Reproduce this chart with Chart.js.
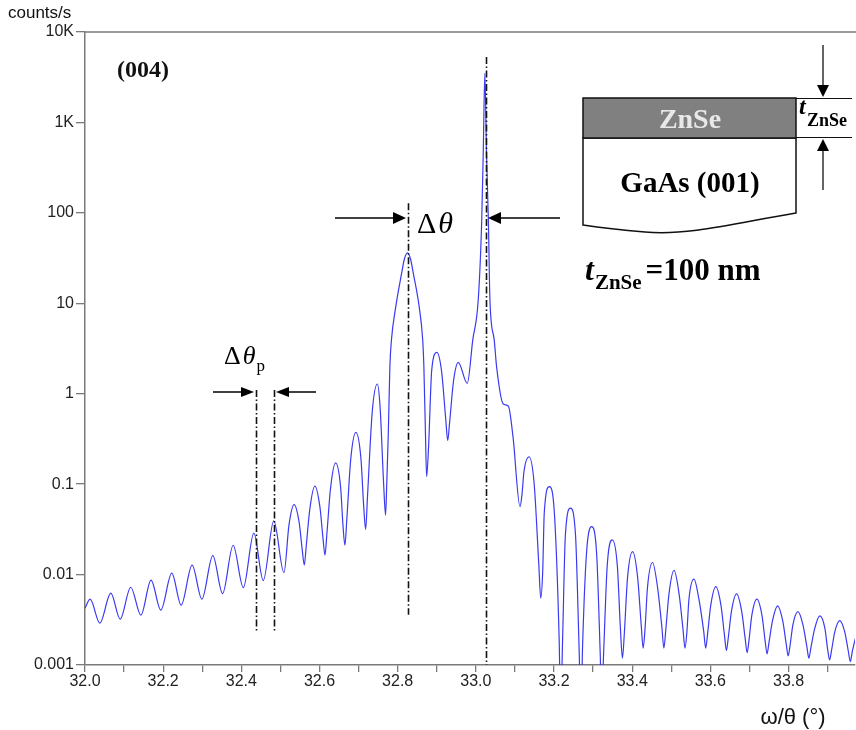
<!DOCTYPE html>
<html>
<head>
<meta charset="utf-8">
<script src="https://cdn.jsdelivr.net/npm/chart.js@4.4.1/dist/chart.umd.min.js"></script>
<style>
html,body{margin:0;padding:0;background:#fff;}
canvas{display:block;}
</style>
</head>
<body>
<canvas id="c" width="856" height="730"></canvas>
<script>
// ---- data ----
const OMEGA_THETA = [
  32.000, 32.013, 32.038, 32.066, 32.090, 32.117, 32.143, 32.169, 32.194, 32.222,
  32.246, 32.274, 32.299, 32.327, 32.352, 32.379, 32.405, 32.432, 32.456, 32.483,
  32.509, 32.522, 32.535, 32.548, 32.556, 32.561, 32.566, 32.575, 32.588, 32.601,
  32.609, 32.614, 32.619, 32.628, 32.641, 32.654, 32.660, 32.665, 32.670, 32.680,
  32.693, 32.706, 32.713, 32.718, 32.723, 32.735, 32.748, 32.755, 32.764, 32.769,
  32.772, 32.776, 32.780, 32.784, 32.795, 32.810, 32.817, 32.825, 32.833, 32.840,
  32.855, 32.864, 32.867, 32.871, 32.874, 32.879, 32.887, 32.900, 32.912, 32.923,
  32.928, 32.933, 32.943, 32.955, 32.978, 32.992, 33.006, 33.015, 33.019, 33.023,
  33.027, 33.032, 33.036, 33.047, 33.053, 33.070, 33.083, 33.095, 33.113, 33.118,
  33.123, 33.136, 33.149, 33.161, 33.166, 33.171, 33.175, 33.188, 33.201, 33.213,
  33.217, 33.222, 33.229, 33.242, 33.255, 33.264, 33.269, 33.273, 33.283, 33.296,
  33.309, 33.318, 33.322, 33.327, 33.336, 33.349, 33.362, 33.370, 33.375, 33.380,
  33.388, 33.401, 33.414, 33.423, 33.428, 33.433, 33.439, 33.452, 33.465, 33.476,
  33.481, 33.486, 33.494, 33.507, 33.520, 33.530, 33.535, 33.540, 33.545, 33.558,
  33.571, 33.583, 33.588, 33.593, 33.601, 33.614, 33.627, 33.636, 33.641, 33.646,
  33.654, 33.667, 33.680, 33.689, 33.694, 33.699, 33.706, 33.719, 33.732, 33.740,
  33.745, 33.750, 33.759, 33.772, 33.785, 33.794, 33.799, 33.804, 33.811, 33.824,
  33.837, 33.847, 33.852, 33.857, 33.867, 33.880, 33.893, 33.900, 33.905, 33.910,
  33.918, 33.931, 33.944, 33.953, 33.958, 33.963, 33.978
];
const COUNTS = [
  0.00425, 0.00535, 0.0029, 0.00622, 0.00321, 0.00724, 0.00356, 0.00867, 0.00404, 0.01035,
  0.00459, 0.0127, 0.00535, 0.0162, 0.00615, 0.0211, 0.00716, 0.0287, 0.00857, 0.0392,
  0.0105, 0.0357, 0.0593, 0.0374, 0.0184, 0.0127, 0.0206, 0.0522, 0.0951, 0.056,
  0.025, 0.0164, 0.0288, 0.0883, 0.172, 0.0925, 0.035, 0.0211, 0.042, 0.191,
  0.373, 0.191, 0.0571, 0.0316, 0.0767, 0.64, 1.28, 0.71, 0.101, 0.0454,
  0.1, 0.365, 1.99, 3.92, 9.14, 21.4, 30.7, 36.1, 30.7, 21.4,
  9.14, 3.92, 1.99, 0.368, 0.121, 0.259, 1.81, 2.86, 1.81, 0.519,
  0.303, 0.489, 1.40, 2.22, 1.30, 3.92, 10.8, 83, 493, 3500,
  493, 83, 10.8, 3.92, 1.99, 0.769, 0.731, 0.335, 0.0564, 0.0766,
  0.137, 0.201, 0.103, 0.013, 0.00548, 0.0108, 0.0481, 0.0938, 0.047, 0.002,
  0.0003, 0.002, 0.0272, 0.0542, 0.0272, 0.0016, 0.0003, 0.0016, 0.017, 0.0339,
  0.017, 0.0014, 0.0004, 0.0014, 0.0124, 0.0242, 0.0124, 0.00245, 0.00119, 0.00229,
  0.0092, 0.0179, 0.0092, 0.00277, 0.00154, 0.00259, 0.00713, 0.0136, 0.00713, 0.00259,
  0.00154, 0.00247, 0.00608, 0.0111, 0.00608, 0.00247, 0.00154, 0.00234, 0.00524, 0.00889,
  0.00524, 0.00234, 0.00154, 0.00224, 0.00459, 0.00736, 0.00459, 0.00214, 0.00145, 0.00204,
  0.00395, 0.00612, 0.00395, 0.00197, 0.00137, 0.00191, 0.00353, 0.00535, 0.00353, 0.00186,
  0.00133, 0.00178, 0.00309, 0.00451, 0.00309, 0.00171, 0.00126, 0.00166, 0.00276, 0.0039,
  0.00276, 0.00158, 0.00119, 0.00154, 0.00254, 0.0035, 0.00254, 0.00149, 0.00114, 0.00145,
  0.0023, 0.0031, 0.0023, 0.00141, 0.00109, 0.00141, 0.0026
];
const X_TICKS = [32.0, 32.1, 32.2, 32.3, 32.4, 32.5, 32.6, 32.7, 32.8, 32.9,
                 33.0, 33.1, 33.2, 33.3, 33.4, 33.5, 33.6, 33.7, 33.8, 33.9];
const X_TICK_LABELS = ['32.0', '', '32.2', '', '32.4', '', '32.6', '', '32.8', '',
                       '33.0', '', '33.2', '', '33.4', '', '33.6', '', '33.8', ''];
const Y_TICKS = [0.001, 0.01, 0.1, 1, 10, 100, 1000, 10000];
const Y_TICK_LABELS = ['0.001', '0.01', '0.1', '1', '10', '100', '1K', '10K'];
// annotation markers (omega/theta positions)
const PENDELLOSUNG_MARKS = [32.437, 32.483];
const LAYER_PEAK = 32.826;
const SUBSTRATE_PEAK = 33.025;

const AXIS_COLOR = '#7a7a7a';
const SANS = '"Liberation Sans", Arial, sans-serif';
const SERIF = '"Liberation Serif", "Times New Roman", serif';

function arrow(ctx, x1, y1, x2, y2, len, half) {
  const ang = Math.atan2(y2 - y1, x2 - x1);
  const bx = x2 - Math.cos(ang) * len, by = y2 - Math.sin(ang) * len;
  ctx.beginPath(); ctx.moveTo(x1, y1); ctx.lineTo(bx, by); ctx.stroke();
  ctx.beginPath();
  ctx.moveTo(x2, y2);
  ctx.lineTo(bx + Math.sin(ang) * half, by - Math.cos(ang) * half);
  ctx.lineTo(bx - Math.sin(ang) * half, by + Math.cos(ang) * half);
  ctx.closePath(); ctx.fill();
}

const annotations = {
  id: 'annotations',
  afterDraw(chart) {
    const { ctx, chartArea: a, scales: { x, y } } = chart;
    ctx.save();
    // top frame line
    ctx.strokeStyle = AXIS_COLOR; ctx.lineWidth = 1.5;
    ctx.beginPath(); ctx.moveTo(a.left, a.top); ctx.lineTo(856, a.top); ctx.stroke();

    // axis captions
    ctx.fillStyle = '#111';
    ctx.font = '17px ' + SANS; ctx.textAlign = 'left'; ctx.textBaseline = 'alphabetic';
    ctx.fillText('counts/s', 8, 18);
    ctx.font = '22px ' + SANS; ctx.textAlign = 'center';
    ctx.fillText('\u03c9/\u03b8 (\u00b0)', 793, 724);

    // (004)
    ctx.font = 'bold 24px ' + SERIF; ctx.textAlign = 'left';
    ctx.fillText('(004)', 117, 77);

    // dash-dot guide lines
    ctx.strokeStyle = '#111'; ctx.lineWidth = 1.6;
    ctx.setLineDash([7, 2.5, 1.5, 2.5]);
    const vline = (xv, ytop, ybot) => {
      const px = Math.round(x.getPixelForValue(xv)) + 0.5;
      ctx.beginPath(); ctx.moveTo(px, y.getPixelForValue(ytop)); ctx.lineTo(px, y.getPixelForValue(ybot)); ctx.stroke();
    };
    PENDELLOSUNG_MARKS.forEach(v => vline(v, 1.1, 0.0023));
    vline(LAYER_PEAK, 128, 0.0036);
    vline(SUBSTRATE_PEAK, 5300, 0.001);
    ctx.setLineDash([]);

    // arrows
    ctx.fillStyle = '#000'; ctx.strokeStyle = '#000'; ctx.lineWidth = 1.5;
    arrow(ctx, 213, 392, 254, 392, 13, 5);
    arrow(ctx, 316, 392, 276, 392, 13, 5);
    arrow(ctx, 335, 218, 406, 218, 13, 6);
    arrow(ctx, 560, 218, 488, 218, 13, 6);

    // delta theta labels
    ctx.fillStyle = '#000';
    ctx.font = '30px ' + SERIF; ctx.textAlign = 'left';
    ctx.fillText('\u0394', 417, 233);
    let w = ctx.measureText('\u0394').width;
    ctx.font = 'italic 30px ' + SERIF;
    ctx.fillText('\u03b8', 417 + w + 2, 233);

    ctx.font = '26px ' + SERIF;
    ctx.fillText('\u0394', 224, 364);
    w = ctx.measureText('\u0394').width;
    ctx.font = 'italic 26px ' + SERIF;
    ctx.fillText('\u03b8', 224 + w + 2, 364);
    const w2 = ctx.measureText('\u03b8').width;
    ctx.font = '17px ' + SERIF;
    ctx.fillText('p', 224 + w + 2 + w2 + 1, 371);

    // inset: layer structure
    ctx.lineWidth = 1.5; ctx.strokeStyle = '#111';
    ctx.fillStyle = '#fff';
    ctx.beginPath();
    ctx.moveTo(583, 138); ctx.lineTo(796, 138); ctx.lineTo(796, 213);
    ctx.bezierCurveTo(740, 222, 690, 236, 645, 232);
    ctx.quadraticCurveTo(610, 229, 583, 225);
    ctx.closePath(); ctx.fill(); ctx.stroke();
    ctx.fillStyle = '#808080';
    ctx.fillRect(583, 98, 213, 40);
    ctx.strokeRect(583, 98, 213, 40);
    ctx.fillStyle = '#e8e8e8';
    ctx.font = 'bold 28px ' + SERIF; ctx.textAlign = 'center';
    ctx.fillText('ZnSe', 690, 128);
    ctx.fillStyle = '#000';
    ctx.font = 'bold 29px ' + SERIF;
    ctx.fillText('GaAs (001)', 690, 192);

    ctx.lineWidth = 1;
    ctx.beginPath();
    ctx.moveTo(796, 98.5); ctx.lineTo(852, 98.5);
    ctx.moveTo(796, 137.5); ctx.lineTo(852, 137.5);
    ctx.stroke();
    ctx.lineWidth = 1.3;
    arrow(ctx, 823, 45, 823, 97, 12, 6);
    arrow(ctx, 823, 190, 823, 139, 12, 6);

    ctx.textAlign = 'left';
    ctx.font = 'bold italic 24px ' + SERIF;
    ctx.fillText('t', 799, 114);
    ctx.font = 'bold 18px ' + SERIF;
    ctx.fillText('ZnSe', 807, 126);

    // thickness caption
    ctx.font = 'bold italic 32px ' + SERIF;
    ctx.fillText('t', 585, 280);
    let tx = 585 + ctx.measureText('t').width + 1;
    ctx.font = 'bold 21px ' + SERIF;
    ctx.fillText('ZnSe', tx, 289);
    tx += ctx.measureText('ZnSe').width + 4;
    ctx.font = 'bold 31px ' + SERIF;
    ctx.fillText('=100 nm', tx, 280);

    ctx.restore();
  }
};

new Chart(document.getElementById('c'), {
  type: 'line',
  data: {
    datasets: [{
      data: OMEGA_THETA.map((v, i) => ({ x: v, y: COUNTS[i] })),
      borderColor: '#3a3af0',
      borderWidth: 1.2,
      pointRadius: 0,
      cubicInterpolationMode: 'monotone',
      fill: false
    }]
  },
  options: {
    responsive: false,
    devicePixelRatio: 1,
    animation: false,
    layout: { padding: { top: 32, left: 0, right: 1, bottom: 0 } },
    plugins: { legend: { display: false }, tooltip: { enabled: false } },
    scales: {
      x: {
        type: 'linear', min: 32, max: 33.97,
        afterBuildTicks: s => { s.ticks = X_TICKS.map(v => ({ value: v })); },
        afterFit: s => { s.height = 65; },
        ticks: {
          autoSkip: false, maxRotation: 0, padding: 0,
          color: '#222', font: { family: SANS, size: 16 },
          callback: (v, i) => X_TICK_LABELS[i]
        },
        grid: { display: true, drawOnChartArea: false, drawTicks: true, tickLength: 7, color: AXIS_COLOR, lineWidth: 1.3 },
        border: { display: true, color: AXIS_COLOR, width: 1.5 }
      },
      y: {
        type: 'logarithmic', min: 0.001, max: 10000,
        afterBuildTicks: s => { s.ticks = Y_TICKS.map(v => ({ value: v })); },
        afterFit: s => { s.width = 85; },
        ticks: {
          autoSkip: false, padding: 2,
          color: '#222', font: { family: SANS, size: 16 },
          callback: (v, i) => Y_TICK_LABELS[i]
        },
        grid: { display: true, drawOnChartArea: false, drawTicks: true, tickLength: 9, color: AXIS_COLOR, lineWidth: 1.3 },
        border: { display: true, color: AXIS_COLOR, width: 1.5 }
      }
    }
  },
  plugins: [annotations]
});
</script>
</body>
</html>
